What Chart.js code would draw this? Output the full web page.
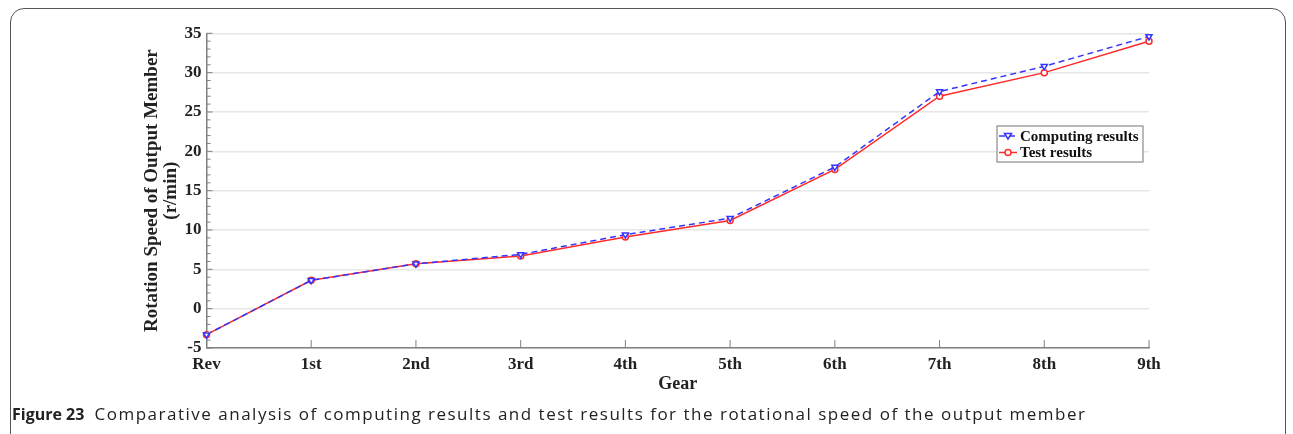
<!DOCTYPE html>
<html>
<head>
<meta charset="utf-8">
<script src="https://cdn.jsdelivr.net/npm/chart.js@4"></script>
<style>
  html, body { margin: 0; padding: 0; background: #fff; overflow: hidden; }
  #wrap { position: relative; width: 1293px; height: 434px; }
  #frame {
    position: absolute; left: 10px; top: 8px; width: 1276px; height: 600px;
    border: 1.5px solid #555; border-radius: 14px; box-sizing: border-box;
  }
  #chart { position: absolute; left: 0; top: 0; }
  #caption {
    position: absolute; left: 12px; top: 402px; white-space: nowrap;
    font-family: "Open Sans", sans-serif; font-size: 16px; color: #222;
  }
  #caption b { font-weight: 700; margin-right: 6px; }
  #caption span { font-size: 17px; letter-spacing: 1.5px; }
</style>
</head>
<body>
<div id="wrap">
  <div id="frame"></div>
  <canvas id="chart" width="1293" height="434"></canvas>
  <div id="caption"><b>Figure 23</b> <span>Comparative analysis of computing results and test results for the rotational speed of the output member</span></div>
</div>
<script>
const gears = ['Rev', '1st', '2nd', '3rd', '4th', '5th', '6th', '7th', '8th', '9th'];
const computing = [-3.3, 3.6, 5.7, 6.9, 9.4, 11.5, 18.0, 27.6, 30.8, 34.6];
const tested = [-3.3, 3.6, 5.7, 6.7, 9.1, 11.2, 17.7, 27.0, 30.0, 34.0];
const yTicks = [-5, 0, 5, 10, 15, 20, 25, 30, 35];

const serif = '"Liberation Serif", "Times New Roman", serif';
const axisGrey = '#808080';

// ticks pointing into the plot, minor ticks on y, and the legend box
const extras = {
    id: 'extras',
    afterDraw(chart) {
        const ctx = chart.ctx;
        const x = chart.scales.x;
        const y = chart.scales.y;
        const area = chart.chartArea;
        ctx.save();
        ctx.strokeStyle = axisGrey;
        ctx.lineWidth = 1;
        for (let v = -5; v <= 35; v++) {
            const py = y.getPixelForValue(v);
            const len = v % 5 === 0 ? 6 : 4;
            ctx.beginPath();
            ctx.moveTo(area.left, py);
            ctx.lineTo(area.left + len, py);
            ctx.stroke();
        }
        gears.forEach((g, i) => {
            const px = x.getPixelForValue(i);
            ctx.beginPath();
            ctx.moveTo(px, area.bottom);
            ctx.lineTo(px, area.bottom - 8);
            ctx.stroke();
        });

        // legend
        const bx = 997, by = 126, bw = 146, bh = 36;
        ctx.fillStyle = '#fff';
        ctx.fillRect(bx, by, bw, bh);
        ctx.strokeStyle = '#8a8a8a';
        ctx.lineWidth = 1.2;
        ctx.strokeRect(bx, by, bw, bh);
        const rows = [136, 152.5];
        chart.data.datasets.forEach((ds, i) => {
            const ry = rows[i];
            ctx.strokeStyle = ds.borderColor;
            ctx.lineWidth = 1.5;
            ctx.setLineDash(ds.borderDash || []);
            ctx.beginPath();
            ctx.moveTo(bx + 2, ry);
            ctx.lineTo(bx + 20, ry);
            ctx.stroke();
            ctx.setLineDash([]);
            ctx.fillStyle = '#fff';
            ctx.beginPath();
            if (ds.pointStyle === 'triangle') {
                ctx.moveTo(bx + 7.5, ry - 2.5);
                ctx.lineTo(bx + 14.5, ry - 2.5);
                ctx.lineTo(bx + 11, ry + 3);
                ctx.closePath();
            } else {
                ctx.arc(bx + 11, ry, 3, 0, Math.PI * 2);
            }
            ctx.fill();
            ctx.stroke();
            ctx.fillStyle = '#111';
            ctx.font = 'bold 15px ' + serif;
            ctx.textBaseline = 'middle';
            ctx.fillText(ds.label, bx + 23, ry + 1);
        });
        ctx.restore();
    }
};

new Chart(document.getElementById('chart'), {
    type: 'line',
    data: {
        labels: gears,
        datasets: [
            {
                label: 'Computing results',
                data: computing,
                borderColor: '#3535ff',
                backgroundColor: '#fff',
                borderWidth: 1.5,
                borderDash: [6, 4],
                pointStyle: 'triangle',
                rotation: 180,
                pointRadius: 3.5,
                pointBorderWidth: 1.5,
                tension: 0
            },
            {
                label: 'Test results',
                data: tested,
                borderColor: '#ff2a2a',
                backgroundColor: '#fff',
                borderWidth: 1.5,
                pointStyle: 'circle',
                pointRadius: 3,
                pointBorderWidth: 1.5,
                tension: 0
            }
        ]
    },
    options: {
        responsive: false,
        animation: false,
        layout: { padding: { left: 143, right: 144, top: 33.3, bottom: 38.6 } },
        plugins: { legend: { display: false }, tooltip: { enabled: false } },
        scales: {
            x: {
                type: 'category',
                offset: false,
                grid: { display: false, drawTicks: false },
                border: { color: axisGrey, width: 1.5 },
                ticks: {
                    color: '#222',
                    padding: 6,
                    maxRotation: 0,
                    autoSkip: false,
                    font: { family: serif, size: 17, weight: 'bold' }
                },
                title: {
                    display: true,
                    text: 'Gear',
                    color: '#222',
                    padding: 0,
                    font: { family: serif, size: 18, weight: 'bold' }
                },
                afterFit(scale) { scale.height = 47.4; }
            },
            y: {
                min: -5,
                max: 35,
                afterBuildTicks(scale) { scale.ticks = yTicks.map(v => ({ value: v })); },
                grid: { color: '#e6e6e6', lineWidth: 1.5, drawTicks: false },
                border: { color: axisGrey, width: 1.5 },
                ticks: {
                    color: '#222',
                    padding: 5,
                    font: { family: serif, size: 17, weight: 'bold' }
                },
                title: {
                    display: true,
                    text: ['Rotation Speed of Output Member', '(r/min)'],
                    color: '#222',
                    padding: 0,
                    font: { family: serif, size: 19, weight: 'bold', lineHeight: 1.0 }
                },
                afterFit(scale) { scale.width = 63.5; }
            }
        }
    },
    plugins: [extras]
});
</script>
</body>
</html>
